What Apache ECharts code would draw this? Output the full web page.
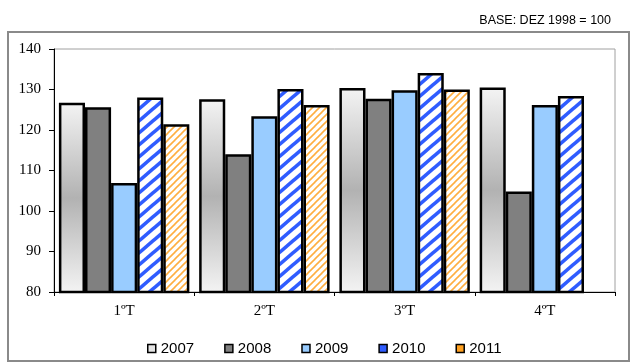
<!DOCTYPE html>
<html>
<head>
<meta charset="utf-8">
<script src="https://cdn.jsdelivr.net/npm/echarts@6/dist/echarts.min.js"></script>
<style>
  html, body { margin: 0; padding: 0; background: #fff; }
  #chart { width: 631px; height: 363px; }
</style>
</head>
<body>
<div id="chart"></div>
<script>
// Quarterly index values, base Dec 1998 = 100
const quarters = ['1ºT', '2ºT', '3ºT', '4ºT'];
const years = ['2007', '2008', '2009', '2010', '2011'];
const values2007 = [126.7, 127.6, 130.4, 130.5];
const values2008 = [125.6, 114.0, 127.7, 104.8];
const values2009 = [106.9, 123.4, 129.8, 126.2];
const values2010 = [128.0, 130.1, 134.1, 128.4];
const values2011 = [121.4, 126.2, 130.0, null];
const yTicks = { min: 80, max: 140, step: 10 };

// Diagonal stripe tile ("/" direction) used as a repeating fill
function stripeTile(w, h, color, width, dash) {
  const c = document.createElement('canvas');
  c.width = w; c.height = h;
  const ctx = c.getContext('2d');
  ctx.fillStyle = '#ffffff';
  ctx.fillRect(0, 0, w, h);
  ctx.strokeStyle = color;
  ctx.lineWidth = width;
  if (dash) ctx.setLineDash(dash);
  for (let k = -1; k <= 1; k++) {
    ctx.beginPath();
    ctx.moveTo(-w, 2 * h + k * h);
    ctx.lineTo(2 * w, -h + k * h);
    ctx.stroke();
  }
  return c;
}

const bluePattern = { image: stripeTile(14, 12, '#2f5cff', 3.6), repeat: 'repeat' };
const orangePattern = { image: stripeTile(7, 7, 'rgba(255,160,30,0.85)', 1.6), repeat: 'repeat' };

const grayGradient = {
  type: 'linear', x: 0, y: 0, x2: 0, y2: 1,
  colorStops: [
    { offset: 0, color: '#f4f4f4' },
    { offset: 0.5, color: '#b2b2b2' },
    { offset: 1, color: '#f4f4f4' }
  ]
};

const fills = [grayGradient, '#808080', '#99ccff', bluePattern, orangePattern];
const legendFills = ['#e4e4e4', '#808080', '#99ccff', '#2f5cff', '#ffa020'];
const seriesValues = [values2007, values2008, values2009, values2010, values2011];

const serif = 'Liberation Serif, Times New Roman, serif';
const sans = 'Liberation Sans, Arial, sans-serif';

const chart = echarts.init(document.getElementById('chart'), null, { renderer: 'canvas' });

chart.setOption({
  animation: false,
  backgroundColor: '#ffffff',
  graphic: [{
    type: 'rect',
    shape: { x: 8, y: 32, width: 621, height: 329 },
    style: { fill: 'none', stroke: '#8a8a8a', lineWidth: 2 },
    z: 0
  }],
  title: {
    text: 'BASE: DEZ 1998 = 100',
    right: 15,
    top: 9,
    textStyle: { fontFamily: sans, fontSize: 12.5, fontWeight: 'normal', color: '#000' }
  },
  grid: {
    left: 54, right: 16, top: 49, bottom: 71,
    show: true, borderColor: '#a0a0a0', borderWidth: 1, backgroundColor: 'transparent'
  },
  legend: {
    bottom: 2,
    left: 142,
    icon: 'rect',
    itemWidth: 8,
    itemHeight: 8,
    itemGap: 30,
    textStyle: { fontFamily: sans, fontSize: 15, color: '#000' },
    data: years.map((y, i) => ({
      name: y,
      itemStyle: { color: legendFills[i], borderColor: '#000', borderWidth: 1.5 }
    }))
  },
  xAxis: {
    type: 'category',
    data: quarters,
    axisLine: { lineStyle: { color: '#000', width: 1 } },
    axisTick: { show: true, length: 4, lineStyle: { color: '#000' } },
    axisLabel: { fontFamily: serif, fontSize: 15, color: '#000', margin: 12 }
  },
  yAxis: {
    type: 'value',
    min: yTicks.min,
    max: yTicks.max,
    interval: yTicks.step,
    axisLine: { show: true, lineStyle: { color: '#000', width: 1 } },
    axisTick: { show: true, length: 5, lineStyle: { color: '#000' } },
    splitLine: { show: false },
    axisLabel: { fontFamily: serif, fontSize: 15, color: '#000', margin: 13 }
  },
  series: years.map((y, i) => ({
    name: y,
    type: 'bar',
    data: seriesValues[i],
    barGap: '0%',
    barCategoryGap: '7%',
    itemStyle: { color: fills[i], borderColor: '#000', borderWidth: 2.5 }
  }))
});
</script>
</body>
</html>
